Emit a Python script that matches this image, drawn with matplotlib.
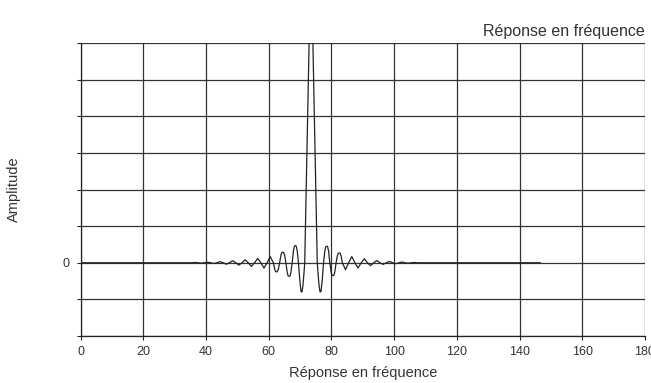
import matplotlib.pyplot as plt

# frequency response samples
freq = [0, 10, 20, 30, 34.5,
        35.5, 36.5, 37.5, 38.5, 39.5, 40.5, 41.5, 42.5, 43.5, 44.5,
        45.5, 46.5, 47.5, 48.5, 49.5, 50.5, 51.5, 52.5, 53.5, 54.5,
        55.5, 56.5, 57.5, 58.5, 59.5, 60.5, 61.5,
        61.9, 62.2, 62.5, 62.8, 63.1, 63.5,
        63.9, 64.2, 64.5, 64.8, 65.1, 65.5,
        65.9, 66.2, 66.5, 66.8, 67.1, 67.5,
        67.9, 68.2, 68.5, 68.8, 69.1, 69.5,
        69.9, 70.3, 70.6, 70.9, 71.2, 71.5,
        73.5,
        75.5, 75.8, 76.1, 76.4, 76.7, 77.1, 77.5,
        77.9, 78.2, 78.5, 78.8, 79.1, 79.5,
        79.9, 80.2, 80.5, 80.8, 81.1, 81.5,
        81.9, 82.2, 82.5, 82.8, 83.1, 83.5,
        84.5, 85.5, 86.5, 87.5, 88.5, 89.5, 90.5, 91.5, 92.5, 93.5,
        94.5, 95.5, 96.5, 97.5, 98.5, 99.5, 100.5, 101.5, 102.5, 103.5,
        104.5, 105.5, 106.5, 107.5, 120, 130, 140, 146.6]
amplitude = [0, 0, 0, 0, 0,
             0, 0.008, 0, -0.01, 0, 0.015, 0, -0.02, 0, 0.03,
             0, -0.04, 0, 0.055, 0, -0.065, 0, 0.08, 0, -0.10,
             0, 0.12, 0, -0.145, 0, 0.17, 0,
             -0.17, -0.24, -0.25, -0.24, -0.17, 0,
             0.2, 0.28, 0.29, 0.28, 0.2, 0,
             -0.26, -0.36, -0.37, -0.36, -0.26, 0,
             0.33, 0.45, 0.47, 0.45, 0.33, 0,
             -0.45, -0.78, -0.80, -0.65, -0.35, 0,
             8.6,
             0, -0.35, -0.65, -0.80, -0.78, -0.45, 0,
             0.32, 0.44, 0.45, 0.44, 0.32, 0,
             -0.25, -0.34, -0.35, -0.34, -0.25, 0,
             0.19, 0.26, 0.27, 0.26, 0.19, 0,
             -0.19, 0, 0.17, 0, -0.145, 0, 0.11, 0, -0.08, 0,
             0.06, 0, -0.045, 0, 0.035, 0, -0.025, 0, 0.02, 0,
             -0.012, 0, 0.008, 0, 0, 0, 0, 0]

xticks = [0, 20, 40, 60, 80, 100, 120, 140, 160, 180]
yticks = [-2, -1, 0, 1, 2, 3, 4, 5, 6]
ylabels = ['', '', '0', '', '', '', '', '', '']

plt.rcParams['font.family'] = ['Liberation Sans', 'DejaVu Sans']

fig = plt.figure(figsize=(6.51, 3.83), dpi=100)
ax = fig.add_axes([0.1237, 0.1227, 0.867, 0.765])

ax.plot(freq, amplitude, color='#222222', lw=0.9)

ax.set_xlim(0, 180)
ax.set_ylim(-2, 6)
ax.set_xticks(xticks)
ax.set_yticks(yticks)
ax.set_yticklabels(ylabels)
ax.grid(True, color='#333333', lw=0.9)
ax.set_axisbelow(True)
for s in ['top', 'right']:
    ax.spines[s].set_visible(False)
for s in ['left', 'bottom']:
    ax.spines[s].set_color('#222222')
    ax.spines[s].set_linewidth(0.9)
ax.tick_params(axis='both', direction='out', length=3, width=0.8,
               colors='#222222', labelsize=9, labelcolor='#333333')
ax.tick_params(axis='y', pad=5)
ax.tick_params(axis='x', pad=4)

ax.set_xlabel('Réponse en fréquence', fontsize=10.5, color='#333333', labelpad=6)
ax.set_ylabel('Amplitude', fontsize=10.5, color='#333333', labelpad=30)
ax.set_title('Réponse en fréquence', loc='right', fontsize=11.5,
             color='#333333', pad=5)

fig.savefig('out.png', dpi=100)
